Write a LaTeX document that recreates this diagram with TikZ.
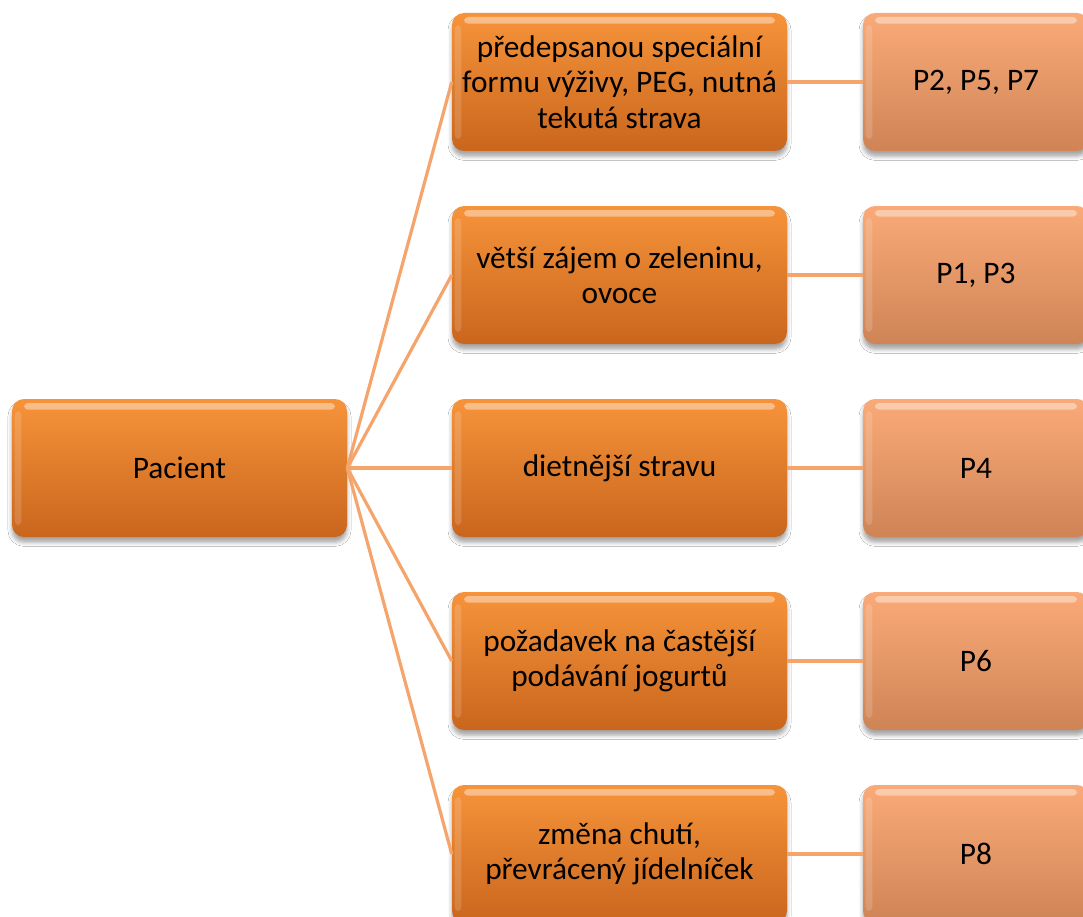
\documentclass[tikz,border=0pt]{standalone}
\usepackage{fontspec}
\setmainfont{Carlito}
\usetikzlibrary{shadows.blur}

\definecolor{orTop}{HTML}{F6933A}
\definecolor{orBot}{HTML}{C9661D}
\definecolor{peTop}{HTML}{FAAA78}
\definecolor{peBot}{HTML}{CF8456}
\definecolor{linkc}{HTML}{F5A56C}

\tikzset{
  x=0.75pt, y=-0.75pt,
  card/.style={
    rounded corners=9pt, draw=none, align=center, text=black,
    font=\fontsize{23.5}{26.5}\selectfont,
    blur shadow={shadow xshift=0pt, shadow yshift=-4pt,
                 shadow blur radius=3pt, shadow opacity=35},
    path picture={
      \fill[white, opacity=0.4, rounded corners=3pt]
        ([xshift=9pt,yshift=-3pt]path picture bounding box.north west)
        rectangle ([xshift=-9pt,yshift=-8pt]path picture bounding box.north east);
      \fill[white, opacity=0.15, rounded corners=3pt]
        ([xshift=2pt,yshift=-9pt]path picture bounding box.north west)
        rectangle ([xshift=7pt,yshift=9pt]path picture bounding box.south west);
    }
  },
  orangecard/.style={card, top color=orTop, bottom color=orBot,
    minimum width=251.25pt, minimum height=103.5pt},
  peachcard/.style={card, top color=peTop, bottom color=peBot,
    minimum width=169.5pt, minimum height=103.5pt},
  link/.style={draw=linkc, line width=2.4pt}
}

\begin{document}
\begin{tikzpicture}
\useasboundingbox (0,0) rectangle (1083,917);
\fill[white] (0,0) rectangle (1083,917);
\clip (0,0) rectangle (1083,917);

% root
\node[orangecard] (pac) at (179.5,468) {Pacient};

% needs
\node[orangecard] (m1) at (619.5,82)  {předepsanou speciální\\formu výživy, PEG, nutná\\tekutá strava};
\node[orangecard] (m2) at (619.5,275) {větší zájem o zeleninu,\\ovoce};
\node[orangecard] (m3) at (619.5,468) {dietnější stravu};
\node[orangecard] (m4) at (619.5,661) {požadavek na častější\\podávání jogurtů};
\node[orangecard] (m5) at (619.5,854) {změna chutí,\\převrácený jídelníček};

% patients
\node[peachcard] (r1) at (976,82)  {P2, P5, P7};
\node[peachcard] (r2) at (976,275) {P1, P3};
\node[peachcard] (r3) at (976,468) {P4};
\node[peachcard] (r4) at (976,661) {P6};
\node[peachcard] (r5) at (976,854) {P8};

% connectors
\foreach \i in {1,...,5} {
  \draw[link] (pac.east) -- (m\i.west);
  \draw[link] (m\i.east) -- (r\i.west);
}
\end{tikzpicture}
\end{document}
